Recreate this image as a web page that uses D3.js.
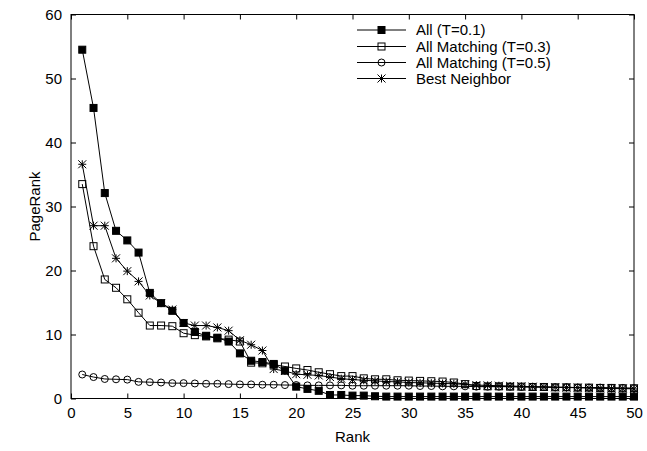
<!DOCTYPE html>
<html>
<head>
<meta charset="utf-8">
<script src="https://cdn.jsdelivr.net/npm/d3@7"></script>
<style>
  html, body { margin: 0; padding: 0; background: #fff; }
  svg text { font-family: "Liberation Sans", Arial, Helvetica, sans-serif; fill: #000; }
</style>
</head>
<body>
<svg id="chart" width="647" height="451"></svg>
<script>
// Rank positions 1..50
const ranks = d3.range(1, 51);

// PageRank per rank for each scoring variant
const allT01 = [54.5, 45.4, 32.1, 26.2, 24.7, 22.8, 16.5, 14.9, 13.7, 11.8,
  10.4, 9.8, 9.5, 8.9, 7.05, 5.9, 5.7, 5.4, 4.35, 1.85,
  1.5, 1.2, 0.55, 0.55, 0.45, 0.45, 0.35, 0.3, 0.3, 0.3,
  0.3, 0.3, 0.3, 0.3, 0.3, 0.3, 0.3, 0.3, 0.3, 0.3,
  0.3, 0.3, 0.3, 0.3, 0.3, 0.3, 0.3, 0.3, 0.3, 0.3];

const matchT03 = [33.5, 23.8, 18.6, 17.3, 15.5, 13.4, 11.4, 11.4, 11.3, 10.2,
  9.9, 9.7, 9.4, 9.2, 8.9, 5.6, 5.5, 5.3, 5.0, 4.7,
  4.45, 4.1, 3.8, 3.5, 3.5, 3.15, 3.0, 3.0, 2.85, 2.8,
  2.75, 2.7, 2.65, 2.5, 2.25, 1.95, 1.9, 1.9, 1.85, 1.85,
  1.8, 1.8, 1.75, 1.75, 1.7, 1.7, 1.65, 1.65, 1.6, 1.6];

const matchT05 = [3.75, 3.35, 3.05, 3.0, 2.95, 2.6, 2.55, 2.5, 2.4, 2.4,
  2.35, 2.3, 2.3, 2.25, 2.2, 2.2, 2.15, 2.15, 2.1, 2.1,
  2.05, 2.05, 2.05, 2.05, 2.0, 2.0, 2.0, 2.0, 2.0, 2.0,
  1.95, 1.95, 1.9, 1.9, 1.9, 1.85, 1.85, 1.85, 1.85, 1.8,
  1.8, 1.8, 1.75, 1.75, 1.7, 1.7, 1.7, 1.65, 1.65, 1.6];

const bestNeighbor = [36.6, 27.0, 27.0, 21.9, 19.9, 18.3, 16.1, 14.9, 13.9, 11.8,
  11.4, 11.4, 11.1, 10.6, 9.1, 8.4, 7.5, 4.6, 4.3, 3.8,
  3.7, 3.6, 3.35, 3.1, 2.95, 2.85, 2.75, 2.65, 2.6, 2.5,
  2.45, 2.4, 2.35, 2.3, 2.2, 2.1, 2.05, 2.0, 1.95, 1.9,
  1.85, 1.8, 1.75, 1.7, 1.7, 1.65, 1.6, 1.55, 1.55, 1.5];

const seriesNames = ["All (T=0.1)", "All Matching (T=0.3)", "All Matching (T=0.5)", "Best Neighbor"];
const seriesValues = [allT01, matchT03, matchT05, bestNeighbor];
const seriesMarkers = ["filledSquare", "openSquare", "openCircle", "star"];

const xTicks = d3.range(0, 51, 5);
const yTicks = d3.range(0, 61, 10);

const svg = d3.select("#chart");
const plotLeft = 71, plotRight = 634, plotTop = 14.5, plotBottom = 398.5;
const fontSize = 15;

const x = d3.scaleLinear().domain([0, 50]).range([plotLeft, plotRight]);
const y = d3.scaleLinear().domain([0, 60]).range([plotBottom, plotTop]);

// Frame
svg.append("rect")
  .attr("x", plotLeft).attr("y", plotTop)
  .attr("width", plotRight - plotLeft).attr("height", plotBottom - plotTop)
  .attr("fill", "none").attr("stroke", "#000").attr("stroke-width", 1);

// Inward ticks on all four sides
const tickLen = 5;
const xAxisB = d3.axisBottom(x).tickValues(xTicks).tickSizeInner(-tickLen).tickSizeOuter(0).tickPadding(9);
const yAxisL = d3.axisLeft(y).tickValues(yTicks).tickSizeInner(-tickLen).tickSizeOuter(0).tickPadding(9);
const xAxisT = d3.axisTop(x).tickValues(xTicks).tickSizeInner(-tickLen).tickSizeOuter(0).tickFormat("");
const yAxisR = d3.axisRight(y).tickValues(yTicks).tickSizeInner(-tickLen).tickSizeOuter(0).tickFormat("");

function styleAxis(g) {
  g.select(".domain").remove();
  g.selectAll("line").attr("stroke", "#000");
  g.selectAll("text").attr("font-size", fontSize).attr("font-family", "Liberation Sans, Arial, sans-serif").attr("fill", "#000");
}
svg.append("g").attr("transform", `translate(0,${plotBottom})`).call(xAxisB).call(styleAxis);
svg.append("g").attr("transform", `translate(${plotLeft},0)`).call(yAxisL).call(styleAxis);
svg.append("g").attr("transform", `translate(0,${plotTop})`).call(xAxisT).call(styleAxis);
svg.append("g").attr("transform", `translate(${plotRight},0)`).call(yAxisR).call(styleAxis);

// Axis titles
svg.append("text").attr("x", (plotLeft + plotRight) / 2).attr("y", 442)
  .attr("text-anchor", "middle").attr("font-size", fontSize).text("Rank");
svg.append("text")
  .attr("transform", `translate(40,${(plotTop + plotBottom) / 2}) rotate(-90)`)
  .attr("text-anchor", "middle").attr("font-size", fontSize).text("PageRank");

// Marker drawing
function drawMarker(g, kind, cx, cy) {
  const s = 3.5;
  if (kind === "filledSquare") {
    g.append("rect").attr("x", cx - s).attr("y", cy - s).attr("width", 2 * s).attr("height", 2 * s)
      .attr("fill", "#000").attr("stroke", "#000").attr("stroke-width", 1);
  } else if (kind === "openSquare") {
    g.append("rect").attr("x", cx - s).attr("y", cy - s).attr("width", 2 * s).attr("height", 2 * s)
      .attr("fill", "none").attr("stroke", "#000").attr("stroke-width", 1);
  } else if (kind === "openCircle") {
    g.append("circle").attr("cx", cx).attr("cy", cy).attr("r", s)
      .attr("fill", "none").attr("stroke", "#000").attr("stroke-width", 1);
  } else if (kind === "star") {
    const r = 4;
    const path = `M${cx - r},${cy}L${cx + r},${cy}M${cx},${cy - r}L${cx},${cy + r}` +
      `M${cx - r},${cy - r}L${cx + r},${cy + r}M${cx - r},${cy + r}L${cx + r},${cy - r}`;
    g.append("path").attr("d", path).attr("stroke", "#000").attr("stroke-width", 1).attr("fill", "none");
  }
}

const line = d3.line().x(d => x(d[0])).y(d => y(d[1]));

seriesValues.forEach((vals, i) => {
  const pts = ranks.map((r, k) => [r, vals[k]]);
  const g = svg.append("g");
  g.append("path").datum(pts).attr("d", line)
    .attr("fill", "none").attr("stroke", "#000").attr("stroke-width", 1);
  pts.forEach(p => drawMarker(g, seriesMarkers[i], x(p[0]), y(p[1])));
});

// Legend
const legend = svg.append("g");
const legendRowY = [30, 46.5, 62.5, 78.5];
seriesNames.forEach((name, i) => {
  const ly = legendRowY[i];
  legend.append("line").attr("x1", 357).attr("x2", 406).attr("y1", ly).attr("y2", ly)
    .attr("stroke", "#000").attr("stroke-width", 1);
  drawMarker(legend, seriesMarkers[i], 381.5, ly);
  legend.append("text").attr("x", 416).attr("y", ly + 5).attr("font-size", fontSize).text(name);
});
</script>
</body>
</html>
